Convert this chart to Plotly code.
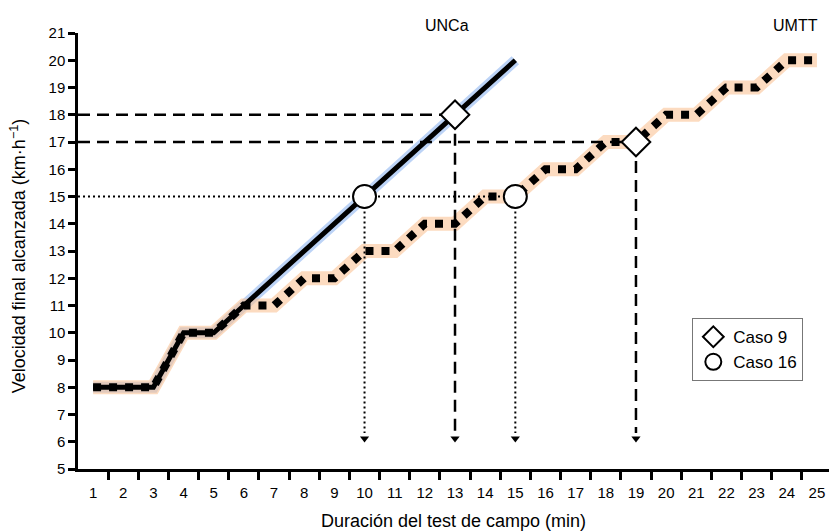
import plotly.graph_objects as go

# ---- data ----
minutes = list(range(1, 26))
unca_min = list(range(1, 16))
unca_speed = [8, 8, 8, 10, 10, 11, 12, 13, 14, 15, 16, 17, 18, 19, 20]
umtt_speed = [8, 8, 8, 10, 10, 11, 11, 12, 12, 13, 13, 14, 14, 15, 15,
              16, 16, 17, 17, 18, 18, 19, 19, 20, 20]
caso9_x = [13, 19]
caso9_y = [18, 17]
caso16_x = [10, 15]
caso16_y = [15, 15]
x_tick_labels = [str(m) for m in minutes]
y_ticks = list(range(5, 22))

X_LEFT = 0.5
ARROW_Y = 6.12
FONT = "Liberation Sans, Arial, sans-serif"

fig = go.Figure()

# glows
fig.add_trace(go.Scatter(x=unca_min, y=unca_speed, mode="lines",
                         line=dict(color="rgba(160,192,242,0.7)", width=11),
                         hoverinfo="skip", showlegend=False))
fig.add_trace(go.Scatter(x=minutes, y=umtt_speed, mode="lines",
                         line=dict(color="rgba(250,195,150,0.6)", width=14),
                         hoverinfo="skip", showlegend=False))

# reference lines for Caso 9 (dashed)
for cx, cy in zip(caso9_x, caso9_y):
    fig.add_trace(go.Scatter(x=[X_LEFT, cx], y=[cy, cy], mode="lines",
                             line=dict(color="black", width=2.5, dash="12px,7px"),
                             hoverinfo="skip", showlegend=False))
    fig.add_trace(go.Scatter(x=[cx, cx], y=[cy, ARROW_Y + 0.2], mode="lines",
                             line=dict(color="black", width=2.5, dash="12px,7px"),
                             hoverinfo="skip", showlegend=False))
# reference lines for Caso 16 (dotted)
fig.add_trace(go.Scatter(x=[X_LEFT, max(caso16_x)], y=[caso16_y[0], caso16_y[0]],
                         mode="lines",
                         line=dict(color="black", width=2, dash="2px,3px"),
                         hoverinfo="skip", showlegend=False))
for cx, cy in zip(caso16_x, caso16_y):
    fig.add_trace(go.Scatter(x=[cx, cx], y=[cy, ARROW_Y + 0.2], mode="lines",
                             line=dict(color="black", width=2, dash="2px,3px"),
                             hoverinfo="skip", showlegend=False))

# arrow heads
fig.add_trace(go.Scatter(x=caso9_x + caso16_x, y=[ARROW_Y] * 4, mode="markers",
                         marker=dict(symbol="triangle-down", size=8, color="black"),
                         hoverinfo="skip", showlegend=False))

# main series
fig.add_trace(go.Scatter(x=minutes, y=umtt_speed, mode="lines", name="UMTT",
                         line=dict(color="black", width=8, dash="dot"),
                         showlegend=False))
fig.add_trace(go.Scatter(x=unca_min, y=unca_speed, mode="lines", name="UNCa",
                         line=dict(color="black", width=5),
                         showlegend=False))

# case markers
fig.add_trace(go.Scatter(x=caso9_x, y=caso9_y, mode="markers", name="Caso 9",
                         marker=dict(symbol="diamond", size=22, color="white",
                                     line=dict(color="black", width=2))))
fig.add_trace(go.Scatter(x=caso16_x, y=caso16_y, mode="markers", name="Caso 16",
                         marker=dict(symbol="circle", size=23, color="white",
                                     line=dict(color="black", width=2))))

fig.update_layout(
    width=829, height=531,
    margin=dict(l=78, r=0, t=33, b=62),
    plot_bgcolor="white", paper_bgcolor="white",
    font=dict(family=FONT, size=15, color="black"),
    showlegend=True,
    legend=dict(x=0.818, y=0.346, xanchor="left", yanchor="top",
                bordercolor="#777777", borderwidth=1, bgcolor="white",
                font=dict(size=17, family=FONT), itemsizing="trace",
                tracegroupgap=4),
    xaxis=dict(range=[X_LEFT, 25.4], tickvals=minutes, ticktext=x_tick_labels,
               ticks="", showgrid=False, zeroline=False,
               showline=True, linecolor="black", linewidth=2.5,
               tickfont=dict(size=15), ticklabelstandoff=8,
               minor=dict(tickvals=[m + 0.5 for m in minutes], ticks="outside",
                          ticklen=8, tickwidth=2.5, tickcolor="black",
                          showgrid=False)),
    yaxis=dict(range=[5, 21], tickvals=y_ticks, ticks="outside", ticklen=7,
               tickwidth=2.5, tickcolor="black", showgrid=False, zeroline=False,
               showline=True, linecolor="black", linewidth=2.5,
               tickfont=dict(size=15)),
    annotations=[
        dict(text="UNCa", xref="paper", yref="paper", x=0.491, y=1.018,
             xanchor="center", yanchor="middle", showarrow=False,
             font=dict(size=16)),
        dict(text="UMTT", xref="paper", yref="paper", x=0.955, y=1.018,
             xanchor="center", yanchor="middle", showarrow=False,
             font=dict(size=16)),
        dict(text="Velocidad final alcanzada (km·h<sup>−1</sup>)", xref="paper",
             yref="paper", x=-0.080, y=0.49, textangle=-90, xanchor="center",
             yanchor="middle", showarrow=False, font=dict(size=18)),
        dict(text="Duración del test de campo (min)", xref="paper", yref="paper",
             x=0.5, y=-0.119, xanchor="center", yanchor="middle",
             showarrow=False, font=dict(size=18)),
    ],
)

fig.write_html("out.html", config={"displayModeBar": False},
               post_script="document.body.style.margin='0';"
                           "document.body.style.overflow='hidden';")
